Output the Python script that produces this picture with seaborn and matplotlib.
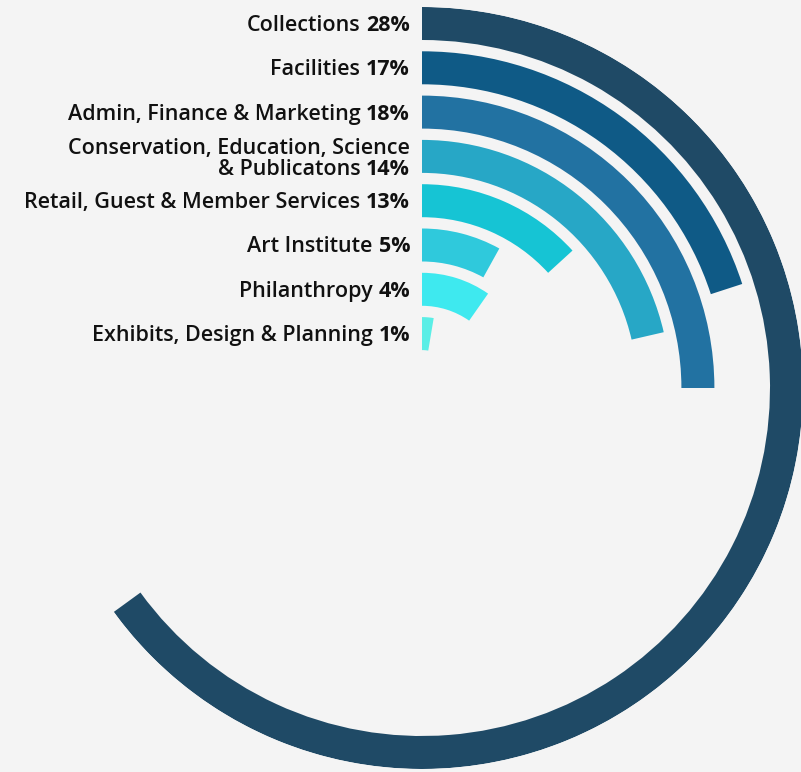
import numpy as np
import matplotlib.pyplot as plt
import seaborn as sns

# departments, outermost ring first
categories = ["Collections", "Facilities", "Admin, Finance & Marketing",
              "Conservation, Education, Science\n& Publicatons",
              "Retail, Guest & Member Services", "Art Institute",
              "Philanthropy", "Exhibits, Design & Planning"]
percent = [28, 17, 18, 14, 13, 5, 4, 1]
# sweep of each arc as drawn in the graphic (degrees, clockwise from top)
arc_degrees = [234, 72, 90, 77, 47.6, 29, 35, 9.5]
colors = ["#1f4a66", "#0f5a86", "#2272a2", "#27a7c6",
          "#16c4d4", "#2fc9dc", "#3ee9ef", "#5aeee6"]

sns.set_style("white")
plt.rcParams["font.family"] = ["Open Sans", "DejaVu Sans"]

W, H = 801, 772
cx, cy, R = 422, 388, 381
fig = plt.figure(figsize=(W / 100, H / 100), dpi=100)
fig.patch.set_facecolor("#f4f4f4")
ax = fig.add_axes([(cx - R) / W, (H - cy - R) / H, 2 * R / W, 2 * R / H],
                  projection="polar")
ax.set_facecolor("none")
ax.set_theta_zero_location("N")
ax.set_theta_direction(-1)
ax.set_ylim(0, R)
ax.axis("off")

step, ring = 44.3, 33
outer = R - step * np.arange(len(categories))
inner = outer - ring
ax.bar(np.zeros(len(categories)), ring, width=np.deg2rad(arc_degrees),
       bottom=inner, align="edge", color=colors, linewidth=0)

fig.canvas.draw()
renderer = fig.canvas.get_renderer()
fs = 15.5
for name, pct, r in zip(categories, percent, inner + ring / 2):
    lines = name.split("\n")
    dy = [-2] if len(lines) == 1 else [8, -13]
    for i, line in enumerate(lines):
        last = i == len(lines) - 1
        if last:
            p = ax.annotate(f"{pct}%", xy=(0, r), xytext=(-12, dy[i]),
                            textcoords="offset pixels", ha="right", va="center",
                            fontsize=fs, fontweight="bold", color="#111111")
            wpx = p.get_window_extent(renderer).width + 6
        else:
            wpx = 0
        ax.annotate(line, xy=(0, r), xytext=(-12 - wpx, dy[i]),
                    textcoords="offset pixels", ha="right", va="center",
                    fontsize=fs, fontweight="semibold", color="#111111")

fig.savefig("out.png", dpi=100, facecolor=fig.get_facecolor())
